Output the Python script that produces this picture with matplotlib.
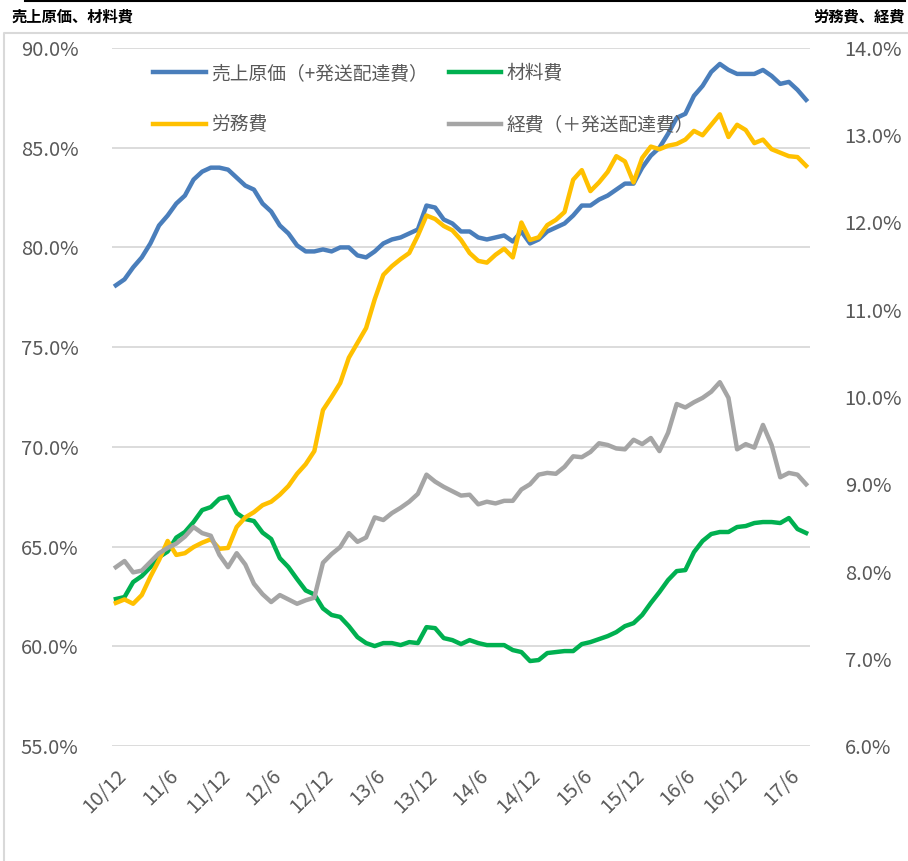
import matplotlib
matplotlib.use("Agg")
import matplotlib.pyplot as plt
from matplotlib.lines import Line2D
from matplotlib.ticker import FuncFormatter

plt.rcParams['font.family'] = ['Noto Sans CJK JP', 'DejaVu Sans']

# --- Data (monthly, 10/12 .. 17/8) ---
tick_labels = ["10/12", "11/6", "11/12", "12/6", "12/12", "13/6", "13/12",
               "14/6", "14/12", "15/6", "15/12", "16/6", "16/12", "17/6"]

# left axis (%)
cost_of_sales = [78.1, 78.4, 79.0, 79.5, 80.2, 81.1, 81.6, 82.2, 82.6, 83.4,
                 83.8, 84.0, 84.0, 83.9, 83.5, 83.1, 82.9, 82.2, 81.8, 81.1,
                 80.7, 80.1, 79.8, 79.8, 79.9, 79.8, 80.0, 80.0, 79.6, 79.5,
                 79.8, 80.2, 80.4, 80.5, 80.7, 80.9, 82.1, 82.0, 81.4, 81.2,
                 80.8, 80.8, 80.5, 80.4, 80.5, 80.6, 80.3, 80.8, 80.2, 80.4,
                 80.8, 81.0, 81.2, 81.6, 82.1, 82.1, 82.4, 82.6, 82.9, 83.2,
                 83.2, 84.0, 84.6, 85.0, 85.7, 86.5, 86.7, 87.6, 88.1, 88.8,
                 89.2, 88.9, 88.7, 88.7, 88.7, 88.9, 88.6, 88.2, 88.3, 87.9,
                 87.4]
materials = [62.37, 62.47, 63.22, 63.52, 63.97, 64.47, 64.75, 65.45, 65.73, 66.23,
             66.83, 66.98, 67.40, 67.50, 66.68, 66.38, 66.28, 65.70, 65.38, 64.42,
             63.97, 63.37, 62.80, 62.60, 61.90, 61.57, 61.47, 61.01, 60.46, 60.16,
             60.01, 60.16, 60.16, 60.06, 60.21, 60.16, 60.96, 60.91, 60.41, 60.31,
             60.11, 60.31, 60.16, 60.06, 60.06, 60.06, 59.81, 59.71, 59.26, 59.31,
             59.66, 59.71, 59.76, 59.76, 60.11, 60.21, 60.36, 60.51, 60.71, 61.01,
             61.16, 61.57, 62.17, 62.72, 63.32, 63.77, 63.82, 64.72, 65.28, 65.63,
             65.73, 65.73, 65.98, 66.03, 66.18, 66.23, 66.23, 66.18, 66.43, 65.88,
             65.68]

# right axis (%)
labour = [7.64, 7.68, 7.63, 7.73, 7.94, 8.13, 8.35, 8.19, 8.21, 8.28,
          8.33, 8.37, 8.26, 8.27, 8.51, 8.62, 8.68, 8.76, 8.80, 8.88,
          8.98, 9.12, 9.23, 9.38, 9.85, 10.00, 10.16, 10.45, 10.62, 10.79,
          11.12, 11.40, 11.50, 11.58, 11.65, 11.85, 12.08, 12.04, 11.96, 11.91,
          11.80, 11.65, 11.56, 11.54, 11.63, 11.70, 11.60, 12.00, 11.80, 11.83,
          11.97, 12.03, 12.12, 12.49, 12.60, 12.36, 12.46, 12.58, 12.76, 12.70,
          12.46, 12.74, 12.87, 12.84, 12.88, 12.90, 12.95, 13.05, 13.00, 13.12,
          13.24, 12.98, 13.12, 13.06, 12.91, 12.95, 12.84, 12.80, 12.76, 12.75,
          12.65]
expenses = [8.05, 8.12, 7.99, 8.01, 8.11, 8.21, 8.27, 8.32, 8.40, 8.51,
            8.44, 8.41, 8.19, 8.05, 8.21, 8.08, 7.86, 7.74, 7.65, 7.73,
            7.68, 7.63, 7.67, 7.70, 8.10, 8.20, 8.28, 8.44, 8.34, 8.39,
            8.62, 8.59, 8.67, 8.73, 8.80, 8.89, 9.11, 9.03, 8.97, 8.92,
            8.87, 8.88, 8.77, 8.80, 8.78, 8.81, 8.81, 8.94, 9.00, 9.11,
            9.13, 9.12, 9.20, 9.32, 9.31, 9.37, 9.47, 9.45, 9.41, 9.40,
            9.51, 9.46, 9.53, 9.38, 9.59, 9.92, 9.88, 9.94, 9.99, 10.06,
            10.17, 9.99, 9.40, 9.46, 9.42, 9.68, 9.45, 9.08, 9.13, 9.11,
            9.00]

names = ["売上原価（+発送配達費）", "材料費", "労務費", "経費（＋発送配達費）"]
colors = ["#4a7ebb", "#00b050", "#ffc000", "#a5a5a5"]

x = list(range(len(cost_of_sales)))
tick_pos = x[::6]

# --- Figure ---
W, H = 908, 861
fig = plt.figure(figsize=(W / 100, H / 100), dpi=100)
ax = fig.add_axes([112 / W, 1 - 746 / H, (810 - 112) / W, (746 - 48) / H])
ax2 = ax.twinx()

lw = 3.2
l1, = ax.plot(x, cost_of_sales, color=colors[0], lw=lw, solid_joinstyle="round")
l2, = ax.plot(x, materials, color=colors[1], lw=lw, solid_joinstyle="round")
l3, = ax2.plot(x, labour, color=colors[2], lw=lw, solid_joinstyle="round")
l4, = ax2.plot(x, expenses, color=colors[3], lw=lw, solid_joinstyle="round")

ax.set_xlim(-0.45, len(x) - 0.55)
ax.set_ylim(55, 90)
ax2.set_ylim(6, 14)
ax.set_yticks(range(55, 91, 5))
ax2.set_yticks(range(6, 15))
ax.yaxis.set_major_formatter(FuncFormatter(lambda v, p: f"{v:.1f}%"))
ax2.yaxis.set_major_formatter(FuncFormatter(lambda v, p: f"{v:.1f}%"))

ax.set_xticks(tick_pos)
ax.set_xticklabels(tick_labels, rotation=45, ha="right", rotation_mode="anchor")

ax.grid(axis="y", color="#d9d9d9", lw=1.3)
ax.set_axisbelow(True)
for a in (ax, ax2):
    for s in a.spines.values():
        s.set_visible(False)
ax.tick_params(axis="y", length=0, pad=24, labelsize=14.5, labelcolor="#595959")
ax2.tick_params(axis="y", length=0, pad=25, labelsize=14.5, labelcolor="#595959")
ax.tick_params(axis="x", length=0, pad=14, labelsize=14.5, labelcolor="#595959")

# --- Legend (2 x 2, no frame) ---
fig.legend([l1, l3, l2, l4], [names[0], names[2], names[1], names[3]],
           ncol=2, loc="upper left", bbox_to_anchor=(153 / W, 1 - 63 / H),
           frameon=False, fontsize=13.5, labelcolor="#595959",
           handlelength=2.8, handletextpad=0.3, columnspacing=1.1,
           labelspacing=1.62, borderpad=0, borderaxespad=0)

# --- Titles and chart-area decoration ---
fig.text(12 / W, 1 - 17 / H, "売上原価、材料費", fontsize=11, fontweight="bold",
         ha="left", va="center")
fig.text(905 / W, 1 - 17 / H, "労務費、経費", fontsize=11, fontweight="bold",
         ha="right", va="center")
fig.add_artist(Line2D([25 / W, 905 / W], [1 - 1 / H, 1 - 1 / H],
                      color="black", lw=1.5, transform=fig.transFigure))
fig.add_artist(Line2D([4 / W, 4 / W, 1.0], [0, 1 - 33 / H, 1 - 33 / H],
                      color="#d9d9d9", lw=1.5, transform=fig.transFigure))

fig.savefig("out.png", dpi=100)
